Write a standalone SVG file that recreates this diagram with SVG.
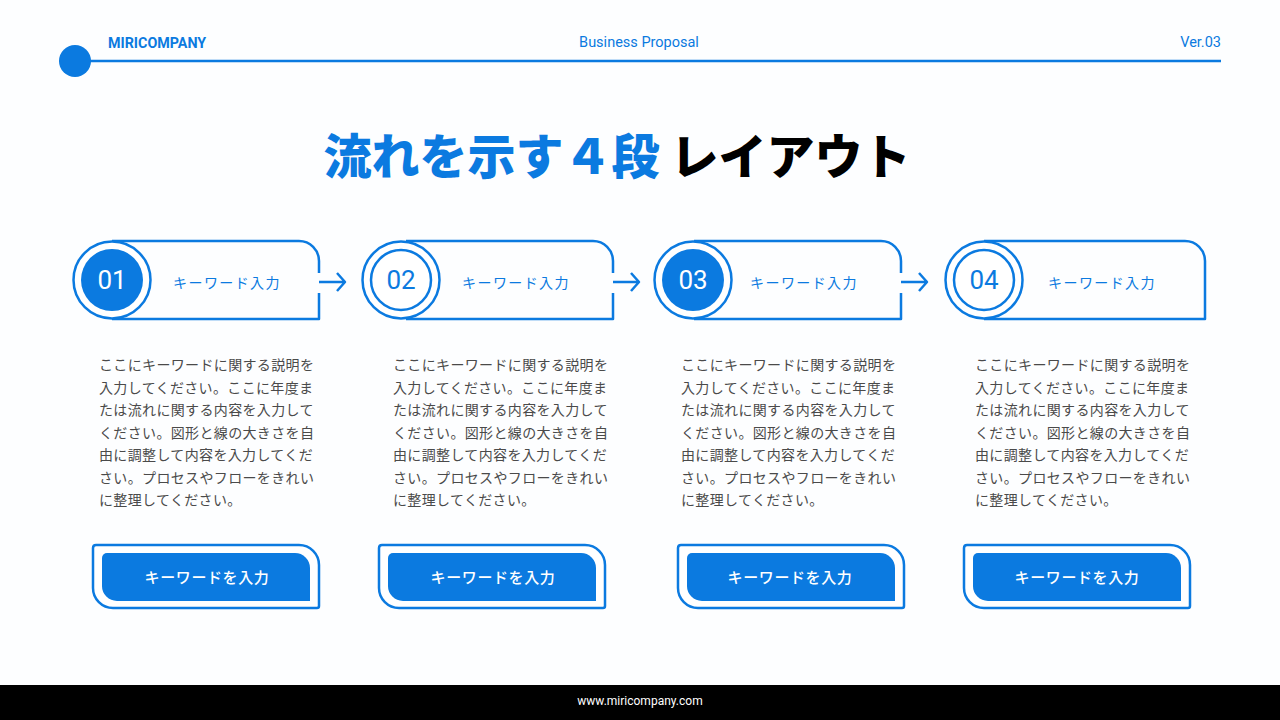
<svg xmlns="http://www.w3.org/2000/svg" width="1280" height="720" viewBox="0 0 1280 720">
<style>
.blue{fill:#0b7ae0}
.ln{fill:none;stroke:#0b7ae0;stroke-width:2.5;stroke-linejoin:round}
.hdr{font-family:Roboto,"Noto Sans",sans-serif;fill:#0b7ae0}
.jp{font-family:"Noto Sans CJK JP","Noto Sans",sans-serif}
.lbl{font-family:"Noto Sans CJK JP",sans-serif;font-size:14px;fill:#0b7ae0;text-anchor:middle;letter-spacing:1.4px}
.num{font-family:Roboto,"Noto Sans",sans-serif;font-size:26px;text-anchor:middle}
.desc{font-family:"Noto Sans CJK JP",sans-serif;font-size:14px;fill:#4a4a4a;letter-spacing:0.35px}
.btxt{font-family:"Noto Sans CJK JP",sans-serif;font-size:15px;fill:#ffffff;text-anchor:middle;font-weight:500;letter-spacing:0.6px}
</style>
<defs>
<g id="tab">
<path class="ln" d="M112,241 H299 A20,20 0 0 1 319,261 V273 M319,293 V319 H112"/>
</g>
<g id="arrow">
<path class="ln" d="M319,282 H344 M337,273 L345,282 L337,291"/>
</g>
<g id="btn">
<path d="M96,545 H299 A20,20 0 0 1 319,565 V606 Q319,608 317,608 H113 A20,20 0 0 1 93,588 V548 Q93,545 96,545 Z" fill="#ffffff" stroke="#0b7ae0" stroke-width="2.5"/>
<path class="blue" d="M107,553 H295 A15,15 0 0 1 310,568 V601 H117 A15,15 0 0 1 102,586 V558 A5,5 0 0 1 107,553 Z"/>
</g>
<g id="desc">
<text class="desc" x="99" y="370">ここにキーワードに関する説明を</text>
<text class="desc" x="99" y="392.5">入力してください。ここに年度ま</text>
<text class="desc" x="99" y="415">たは流れに関する内容を入力して</text>
<text class="desc" x="99" y="437.5">ください。図形と線の大きさを自</text>
<text class="desc" x="99" y="460">由に調整して内容を入力してくだ</text>
<text class="desc" x="99" y="482.5">さい。プロセスやフローをきれい</text>
<text class="desc" x="99" y="505">に整理してください。</text>
</g>
</defs>
<rect width="1280" height="720" fill="#fdfeff"/>
<g id="header">
<line x1="75" y1="61" x2="1221" y2="61" stroke="#0b7ae0" stroke-width="2.5"/>
<circle cx="75" cy="61" r="16" class="blue"/>
<text class="hdr" x="108" y="48" font-size="14.3" font-weight="bold">MIRICOMPANY</text>
<text class="hdr" x="639" y="47" font-size="14.5" text-anchor="middle">Business Proposal</text>
<text class="hdr" x="1221" y="47" font-size="14.5" text-anchor="end">Ver.03</text>
</g>
<g id="title">
<text class="jp" x="617" y="174" font-size="48" font-weight="900" text-anchor="middle"><tspan fill="#0b7ae0">流れを示す４段</tspan><tspan fill="#000000"> レイアウト</tspan></text>
</g>
<g id="connectors">
<use href="#arrow"/>
<use href="#arrow" transform="translate(294,0)"/>
<use href="#arrow" transform="translate(582,0)"/>
</g>
<g id="step1">
<use href="#tab"/>
<circle cx="112" cy="280" r="38.5" fill="#ffffff" stroke="#0b7ae0" stroke-width="2.5"/>
<circle cx="112" cy="280" r="31" class="blue"/>
<text class="num" x="112" y="289" fill="#ffffff">01</text>
<text class="lbl" x="227" y="288">キーワード入力</text>
<use href="#desc"/>
<use href="#btn"/>
<text class="btxt" x="207" y="583">キーワードを入力</text>
</g>
<g id="step2">
<use href="#tab" transform="translate(294,0)"/>
<circle cx="401" cy="280" r="38.5" fill="#ffffff" stroke="#0b7ae0" stroke-width="2.5"/>
<circle cx="401" cy="280" r="30" fill="#ffffff" stroke="#0b7ae0" stroke-width="2.5"/>
<text class="num" x="401" y="289" fill="#0b7ae0">02</text>
<text class="lbl" x="516" y="288">キーワード入力</text>
<use href="#desc" transform="translate(294,0)"/>
<use href="#btn" transform="translate(286,0)"/>
<text class="btxt" x="493" y="583">キーワードを入力</text>
</g>
<g id="step3">
<use href="#tab" transform="translate(582,0)"/>
<circle cx="693" cy="280" r="38.5" fill="#ffffff" stroke="#0b7ae0" stroke-width="2.5"/>
<circle cx="693" cy="280" r="31" class="blue"/>
<text class="num" x="693" y="289" fill="#ffffff">03</text>
<text class="lbl" x="804" y="288">キーワード入力</text>
<use href="#desc" transform="translate(582,0)"/>
<use href="#btn" transform="translate(585,0)"/>
<text class="btxt" x="790" y="583">キーワードを入力</text>
</g>
<g id="step4">
<path class="ln" d="M984,241 H1185 A20,20 0 0 1 1205,261 V319 H984"/>
<circle cx="984" cy="280" r="38.5" fill="#ffffff" stroke="#0b7ae0" stroke-width="2.5"/>
<circle cx="984" cy="280" r="30" fill="#ffffff" stroke="#0b7ae0" stroke-width="2.5"/>
<text class="num" x="984" y="289" fill="#0b7ae0">04</text>
<text class="lbl" x="1102" y="288">キーワード入力</text>
<use href="#desc" transform="translate(876,0)"/>
<use href="#btn" transform="translate(871,0)"/>
<text class="btxt" x="1077" y="583">キーワードを入力</text>
</g>
<g id="footer">
<rect x="0" y="685" width="1280" height="35" fill="#000000"/>
<text x="640" y="705" font-family="Roboto,'Noto Sans',sans-serif" font-size="12" fill="#ffffff" text-anchor="middle">www.miricompany.com</text>
</g>
</svg>
